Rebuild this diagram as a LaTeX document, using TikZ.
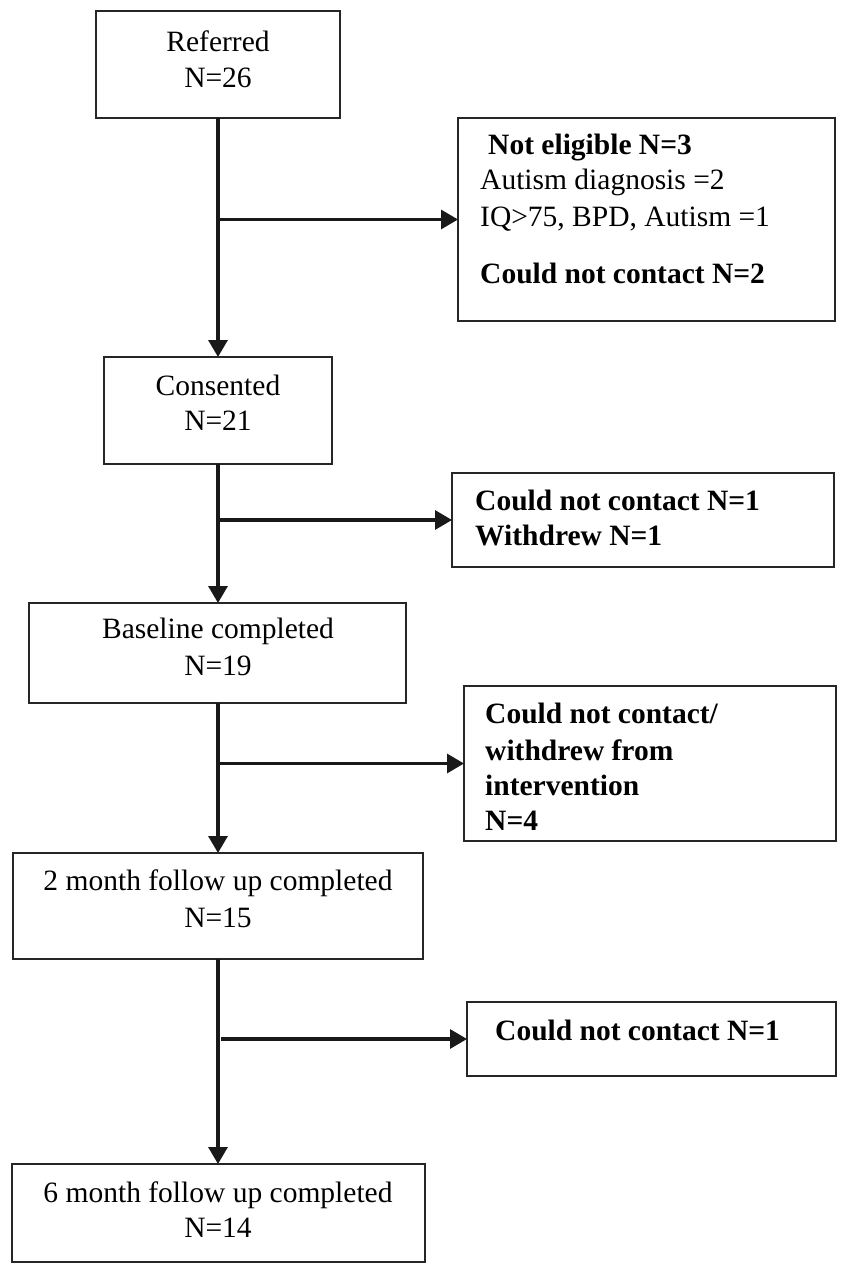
\documentclass[tikz,border=0pt]{standalone}
\usepackage{fontspec}
\setmainfont{Liberation Serif}
\usetikzlibrary{arrows.meta}
\begin{document}
\begin{tikzpicture}[x=1pt,y=-1pt,
  box/.style={draw=black!85, line width=1.9pt, inner sep=0pt, outer sep=0pt, anchor=north west},
  conn/.style={line width=3.2pt, draw=black!90, -{Triangle[length=17pt,width=19pt]}},
  ctext/.style={anchor=base, inner sep=0pt, font=\fontsize{29.5}{36}\selectfont},
  ltext/.style={anchor=base west, inner sep=0pt, font=\fontsize{29.5}{36}\selectfont},
  btext/.style={anchor=base west, inner sep=0pt, font=\fontsize{29.5}{36}\selectfont\bfseries}]
\useasboundingbox (0,0) rectangle (840,1265);
% boxes
\node[box, minimum width=244pt, minimum height=107pt] (ref) at (96,11) {};
\node[box, minimum width=377pt, minimum height=203pt] (ne) at (458,118) {};
\node[box, minimum width=228pt, minimum height=107pt] (con) at (104,357) {};
\node[box, minimum width=382pt, minimum height=94pt] (w1) at (452,473) {};
\node[box, minimum width=377pt, minimum height=100pt] (base) at (29,603) {};
\node[box, minimum width=372pt, minimum height=155pt] (w2) at (464,686) {};
\node[box, minimum width=410pt, minimum height=106pt] (m2) at (13,853) {};
\node[box, minimum width=369pt, minimum height=74pt] (w3) at (467,1002) {};
\node[box, minimum width=413pt, minimum height=98pt] (m6) at (12,1164) {};
% texts
\node[ctext] (t1a) at (218,52) {Referred};
\node[ctext] (t1b) at (218,88) {N=26};
\node[ctext] (t2a) at (218,395) {Consented};
\node[ctext] (t2b) at (218,430) {N=21};
\node[ctext] (t3a) at (218,638) {Baseline completed};
\node[ctext] (t3b) at (218,675) {N=19};
\node[ctext] (t4a) at (218,890) {2 month follow up completed};
\node[ctext] (t4b) at (218,927) {N=15};
\node[ctext] (t5a) at (218,1202) {6 month follow up completed};
\node[ctext] (t5b) at (218,1237) {N=14};
\node[btext] (n1) at (488,155) {Not eligible N=3};
\node[ltext] (n2) at (480,190) {Autism diagnosis =2};
\node[ltext] (n3) at (480,227) {IQ>75, BPD, Autism =1};
\node[btext] (n4) at (480,283) {Could not contact N=2};
\node[btext] (w1a) at (475,510) {Could not contact N=1};
\node[btext] (w1b) at (475,545) {Withdrew N=1};
\node[btext] (w2a) at (485,723) {Could not contact/};
\node[btext] (w2b) at (485,760) {withdrew from};
\node[btext] (w2c) at (485,795) {intervention};
\node[btext] (w2d) at (485,830) {N=4};
\node[btext] (w3a) at (495,1040) {Could not contact N=1};
% connectors
\draw[conn] (ref.south -| t1a) -- (con.north -| t1a);
\draw[conn] (ne.west -| t1a) -- (ne.west);
\draw[conn] (con.south -| t1a) -- (base.north -| t1a);
\draw[conn] (w1.west -| t1a) -- (w1.west);
\draw[conn] (base.south -| t1a) -- (m2.north -| t1a);
\draw[conn] (w2.west -| t1a) -- (w2.west);
\draw[conn] (m2.south -| t1a) -- (m6.north -| t1a);
\draw[conn] ([xshift=3pt]w3.west -| t1a) -- (w3.west);
\end{tikzpicture}
\end{document}
